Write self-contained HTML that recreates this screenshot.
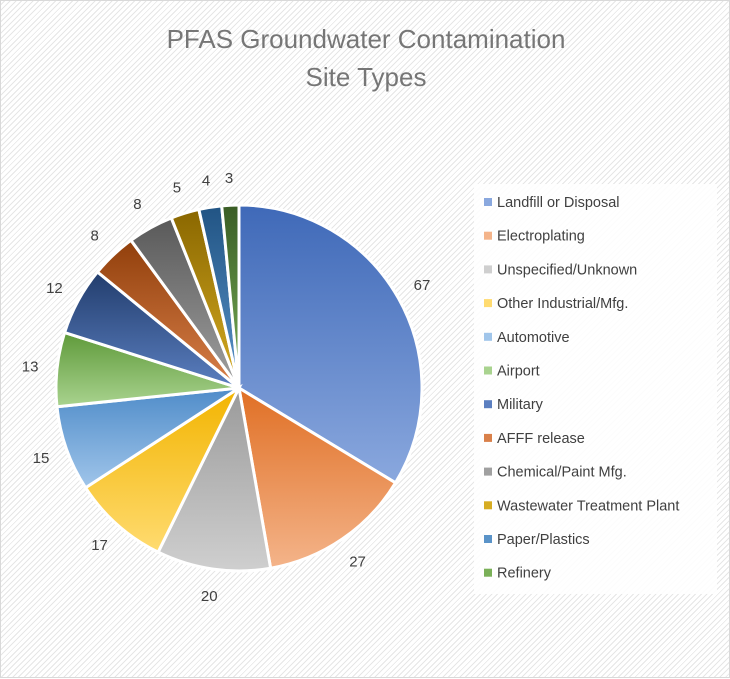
<!DOCTYPE html>
<html><head><meta charset="utf-8"><style>
html,body{margin:0;padding:0}
body{width:730px;height:678px;overflow:hidden;font-family:"Liberation Sans",sans-serif}
#wrap{position:absolute;left:0;top:0;width:728px;height:676px;border:1px solid #d9d9d9;
background:repeating-linear-gradient(135deg,#fff 0 2px,#e6e6e6 2px 3px,#fff 3px 4px)}
</style></head><body>
<div id="wrap">
<svg id="chart" width="730" height="678" style="position:absolute;left:0;top:0">
<text x="365" y="47" text-anchor="middle" font-size="26" fill="#767676">PFAS Groundwater Contamination</text>
<text x="365" y="85" text-anchor="middle" font-size="26" fill="#767676">Site Types</text>
<rect x="473" y="183" width="243" height="410" fill="#fff" fill-opacity="0.85"/>
<defs id="defs"></defs>
<g id="slices"></g><g id="labels"></g><g id="legend"></g>
</svg>
</div>
<script>
const categories=["Landfill or Disposal","Electroplating","Unspecified/Unknown","Other Industrial/Mfg.","Automotive","Airport","Military","AFFF release","Chemical/Paint Mfg.","Wastewater Treatment Plant","Paper/Plastics","Refinery"];
const values=[67,27,20,17,15,13,12,8,8,5,4,3];
const darkColors=["#3f69b8","#e06f24","#9a9a9a","#f2b400","#4f8cc9","#5f9a3a","#223d6d","#913f0b","#595959","#8a6700","#215484","#3a5d25"];
const lightColors=["#8aa8de","#f4b48a","#cfcfcf","#ffdb70","#a0c5ea","#a9d38f","#5b7fc0","#d9804a","#a0a0a0","#d6ac22","#5a93c8","#7ab058"];
const NS="http://www.w3.org/2000/svg";
const cx=238,cy=387,r=183,lr=210;
const total=values.reduce((a,b)=>a+b,0);
const defs=document.getElementById('defs'),gs=document.getElementById('slices'),gl=document.getElementById('labels'),gleg=document.getElementById('legend');
function pt(a,rad){return [cx+rad*Math.sin(a),cy-rad*Math.cos(a)];}
let acc=0;
values.forEach((v,i)=>{
 const a0=acc/total*2*Math.PI;acc+=v;const a1=acc/total*2*Math.PI;
 const g=document.createElementNS(NS,'linearGradient');g.id='g'+i;g.setAttribute('x1','0');g.setAttribute('y1','0');g.setAttribute('x2','0');g.setAttribute('y2','1');
 g.innerHTML='<stop offset="0" stop-color="'+darkColors[i]+'"/><stop offset="1" stop-color="'+lightColors[i]+'"/>';
 defs.appendChild(g);
 const p0=pt(a0,r),p1=pt(a1,r);
 const path=document.createElementNS(NS,'path');
 path.setAttribute('d',`M${cx},${cy}L${p0[0]},${p0[1]}A${r},${r} 0 ${a1-a0>Math.PI?1:0} 1 ${p1[0]},${p1[1]}Z`);
 path.setAttribute('fill','url(#g'+i+')');path.setAttribute('stroke','#fff');path.setAttribute('stroke-width','3');
 
 
 gs.appendChild(path);
 const m=(a0+a1)/2,lp=pt(m,lr);
 const t=document.createElementNS(NS,'text');t.setAttribute('x',lp[0]);t.setAttribute('y',lp[1]+5);
 t.setAttribute('text-anchor','middle');t.setAttribute('font-size','15');t.setAttribute('fill','#404040');t.textContent=v;
 
 
 gl.appendChild(t);
 const y=201+i*33.7;
 const sq=document.createElementNS(NS,'rect');sq.setAttribute('x',483);sq.setAttribute('y',y-4);sq.setAttribute('width',8);sq.setAttribute('height',8);sq.setAttribute('fill',lightColors[i]);
 
 
 gleg.appendChild(sq);
 const lt=document.createElementNS(NS,'text');lt.setAttribute('x',496);lt.setAttribute('y',y+5);lt.setAttribute('font-size','14.5');lt.setAttribute('fill','#404040');lt.textContent=categories[i];
 
 
 gleg.appendChild(lt);
});
</script>
</body></html>
